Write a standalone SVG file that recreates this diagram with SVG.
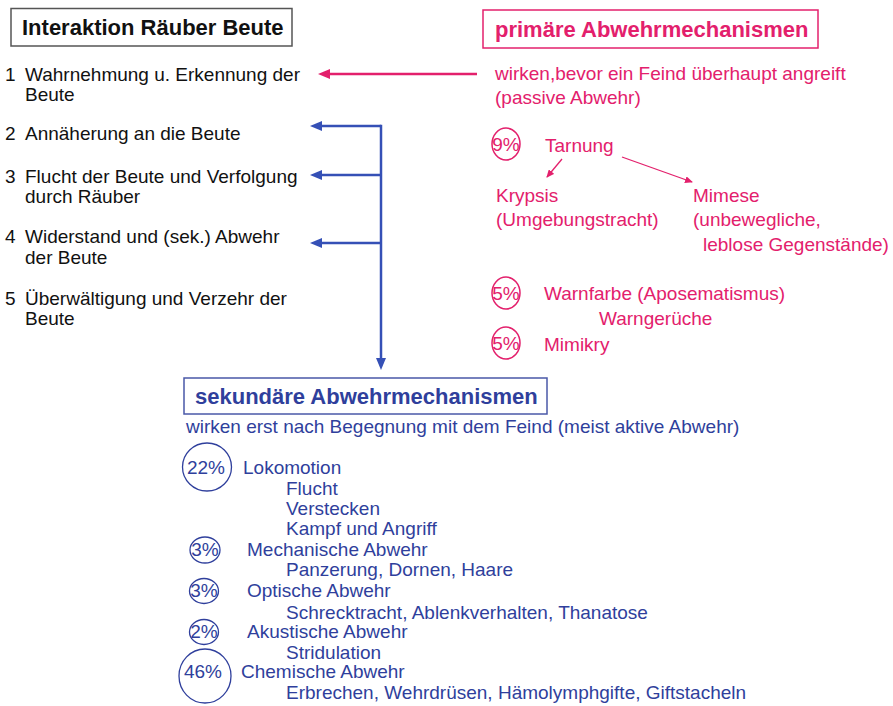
<svg xmlns="http://www.w3.org/2000/svg" width="893" height="706" viewBox="0 0 893 706">
<defs>
<style>
text{font-family:"Liberation Sans",Arial,sans-serif;font-size:19px}
.b{font-weight:bold;font-size:22px}
.k{fill:#111}
.p{fill:#e3206c}
.u{fill:#2f3f9c}
.pl{stroke:#e3206c;fill:none}
.bl{stroke:#3550b6;fill:none}
</style>
<marker id="mp" viewBox="0 0 12 10" refX="6" refY="5" markerWidth="12" markerHeight="10" markerUnits="userSpaceOnUse" orient="auto"><path d="M0,0 L12,5 L0,10 z" fill="#e3206c"/></marker>
<marker id="mps" viewBox="0 0 8 7" refX="7" refY="3.5" markerWidth="8" markerHeight="7" markerUnits="userSpaceOnUse" orient="auto"><path d="M0,0 L8,3.5 L0,7 z" fill="#e3206c"/></marker>
<marker id="mb" viewBox="0 0 12 10" refX="6" refY="5" markerWidth="12" markerHeight="10" markerUnits="userSpaceOnUse" orient="auto"><path d="M0,0 L12,5 L0,10 z" fill="#3550b6"/></marker>
</defs>
<rect width="893" height="706" fill="#ffffff"/>

<g id="connectors">
<path class="pl" stroke-width="2.5" d="M477,74 H324" marker-end="url(#mp)"/>
<path class="bl" stroke-width="2.5" d="M381,124.75 V364" marker-end="url(#mb)"/>
<path class="bl" stroke-width="2.5" d="M381,126 H316" marker-end="url(#mb)"/>
<path class="bl" stroke-width="2.5" d="M381,175 H316" marker-end="url(#mb)"/>
<path class="bl" stroke-width="2.5" d="M381,243 H316" marker-end="url(#mb)"/>
<path class="pl" stroke-width="1.3" d="M562,159 L547,177" marker-end="url(#mps)"/>
<path class="pl" stroke-width="1.3" d="M622,157 L692,182" marker-end="url(#mps)"/>
</g>

<g id="title">
<rect x="11" y="8.5" width="281" height="37.5" fill="none" stroke="#555" stroke-width="1.5"/>
<text class="b k" x="22" y="35">Interaktion Räuber Beute</text>
</g>

<g id="step1"><text class="k" x="5" y="81">1</text><text class="k" x="25" y="81">Wahrnehmung u. Erkennung der</text><text class="k" x="25" y="101">Beute</text></g>
<g id="step2"><text class="k" x="5" y="140">2</text><text class="k" x="25" y="140">Annäherung an die Beute</text></g>
<g id="step3"><text class="k" x="5" y="183">3</text><text class="k" x="25" y="183">Flucht der Beute und Verfolgung</text><text class="k" x="25" y="203">durch Räuber</text></g>
<g id="step4"><text class="k" x="5" y="243">4</text><text class="k" x="25" y="243">Widerstand und (sek.) Abwehr</text><text class="k" x="25" y="264">der Beute</text></g>
<g id="step5"><text class="k" x="5" y="305">5</text><text class="k" x="25" y="305">Überwältigung und Verzehr der</text><text class="k" x="25" y="325">Beute</text></g>

<g id="primaer">
<rect x="483" y="10" width="335" height="38" fill="none" stroke="#e3206c" stroke-width="1.5"/>
<text class="b p" x="495" y="37">primäre Abwehrmechanismen</text>
<text class="p" x="495" y="80">wirken,bevor ein Feind überhaupt angreift</text>
<text class="p" x="495" y="104">(passive Abwehr)</text>
</g>

<g id="tarnung">
<ellipse cx="506" cy="144" rx="14" ry="16" fill="none" stroke="#e3206c" stroke-width="1.5"/>
<text class="p" x="506" y="151" text-anchor="middle">9%</text>
<text class="p" x="545" y="152">Tarnung</text>
</g>
<g id="krypsis"><text class="p" x="496" y="202">Krypsis</text><text class="p" x="496" y="226">(Umgebungstracht)</text></g>
<g id="mimese"><text class="p" x="693" y="202">Mimese</text><text class="p" x="693" y="226">(unbewegliche,</text><text class="p" x="703" y="251">leblose Gegenstände)</text></g>
<g id="warnfarbe">
<ellipse cx="506" cy="293" rx="14" ry="16" fill="none" stroke="#e3206c" stroke-width="1.5"/>
<text class="p" x="506" y="300" text-anchor="middle">5%</text>
<text class="p" x="544" y="300">Warnfarbe (Aposematismus)</text>
<text class="p" x="599" y="325">Warngerüche</text>
</g>
<g id="mimikry">
<ellipse cx="506" cy="343" rx="14" ry="16" fill="none" stroke="#e3206c" stroke-width="1.5"/>
<text class="p" x="506" y="350" text-anchor="middle">5%</text>
<text class="p" x="544" y="351">Mimikry</text>
</g>

<g id="sekundaer">
<rect x="184" y="378" width="363" height="36" fill="none" stroke="#4a58a8" stroke-width="1.5"/>
<text class="b u" x="195" y="404">sekundäre Abwehrmechanismen</text>
<text class="u" x="186" y="433">wirken erst nach Begegnung mit dem Feind (meist aktive Abwehr)</text>
</g>

<g id="lokomotion">
<ellipse cx="207" cy="467" rx="24.5" ry="24" fill="none" stroke="#2f3f9c" stroke-width="1.3"/>
<text class="u" x="206" y="474" text-anchor="middle">22%</text>
<text class="u" x="243" y="474">Lokomotion</text>
<text class="u" x="286" y="495">Flucht</text>
<text class="u" x="286" y="515">Verstecken</text>
<text class="u" x="286" y="535">Kampf und Angriff</text>
</g>
<g id="mechanisch">
<ellipse cx="205" cy="550" rx="15" ry="13" fill="none" stroke="#2f3f9c" stroke-width="1.3"/>
<text class="u" x="205" y="556" text-anchor="middle">3%</text>
<text class="u" x="247" y="556">Mechanische Abwehr</text>
<text class="u" x="286" y="576">Panzerung, Dornen, Haare</text>
</g>
<g id="optisch">
<ellipse cx="204" cy="591" rx="14.5" ry="12.5" fill="none" stroke="#2f3f9c" stroke-width="1.3"/>
<text class="u" x="204" y="597" text-anchor="middle">3%</text>
<text class="u" x="247" y="597">Optische Abwehr</text>
<text class="u" x="286" y="619">Schrecktracht, Ablenkverhalten, Thanatose</text>
</g>
<g id="akustisch">
<ellipse cx="204" cy="632" rx="14.5" ry="12.5" fill="none" stroke="#2f3f9c" stroke-width="1.3"/>
<text class="u" x="204" y="638" text-anchor="middle">2%</text>
<text class="u" x="247" y="638">Akustische Abwehr</text>
<text class="u" x="286" y="659">Stridulation</text>
</g>
<g id="chemisch">
<ellipse cx="205" cy="676" rx="26" ry="27" fill="none" stroke="#2f3f9c" stroke-width="1.3"/>
<text class="u" x="203" y="678" text-anchor="middle">46%</text>
<text class="u" x="241" y="678">Chemische Abwehr</text>
<text class="u" x="286" y="699">Erbrechen, Wehrdrüsen, Hämolymphgifte, Giftstacheln</text>
</g>
</svg>
